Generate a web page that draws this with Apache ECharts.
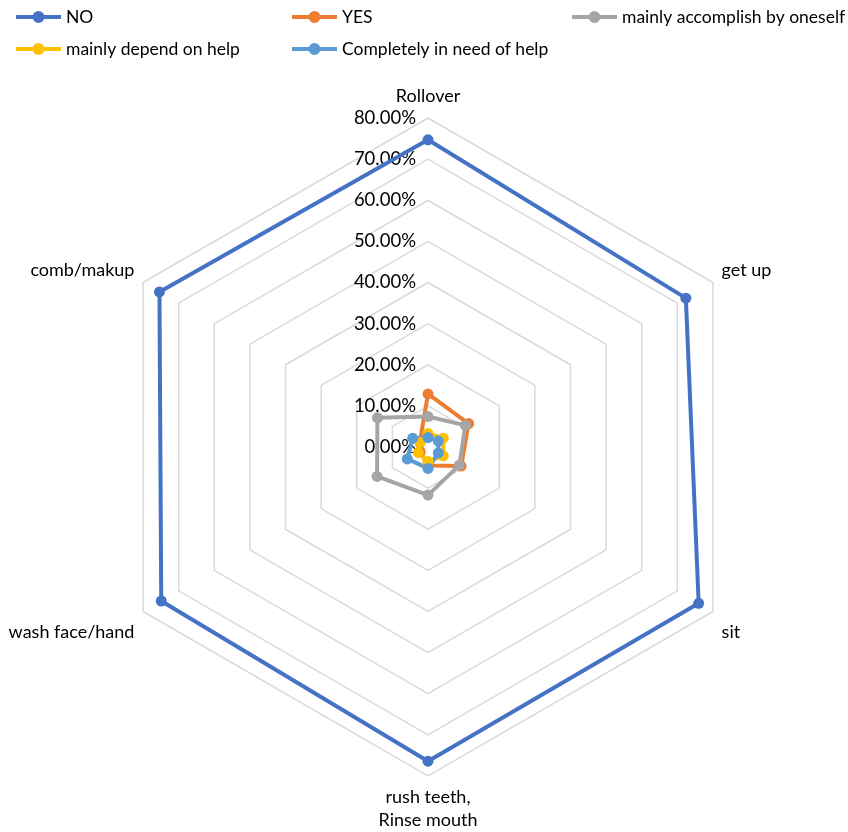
<!DOCTYPE html>
<html>
<head>
<meta charset="utf-8">
<script src="https://cdn.jsdelivr.net/npm/echarts@6/dist/echarts.min.js"></script>
<style>
  html, body { margin: 0; padding: 0; background: #fff; }
  #contain { width: 848px; height: 832px; }
</style>
</head>
<body>
<div id="contain"></div>
<script>
// categories in the order Excel draws them (clockwise from the top)
const categories = ['Rollover', 'get up', 'sit', 'rush teeth,\nRinse mouth', 'wash face/hand', 'comb/makup'];
const seriesNames = ['NO', 'YES', 'mainly accomplish by oneself', 'mainly depend on help', 'Completely in need of help'];
const colors = ['#4472C4', '#ED7D31', '#A5A5A5', '#FFC000', '#5B9BD5'];

const noVals = [74.7, 72.4, 76.0, 76.4, 74.9, 75.4];
const yesVals = [12.9, 11.4, 9.3, 4.5, 2.2, 2.3];
const selfVals = [7.4, 10.5, 8.8, 11.7, 14.3, 14.2];
const dependVals = [3.3, 4.3, 4.3, 3.5, 2.7, 2.2];
const needVals = [2.3, 2.9, 2.9, 5.2, 5.8, 4.3];

const axisMax = 80;
const axisStep = 10;

const font = 'Lato';

// excel puts the side labels a bit higher (upper ones) / lower (lower ones) than echarts
const nameShift = {
  'get up': 'up',
  'comb/makup': 'up',
  'sit': 'down',
  'wash face/hand': 'down'
};

// echarts puts indicators counter-clockwise, so flip the order after the first one
const order = [0, 5, 4, 3, 2, 1];
const reorder = (arr) => order.map(i => arr[i]);

// line with a dot, like the excel legend keys
const legendIcon = 'path://M0,4L45,4L45,8L0,8Z M22.5,0A6,6 0 1,1 22.5,12A6,6 0 1,1 22.5,0Z';

const init = () => {
  const chartDom = document.getElementById('contain');
  const myChart = echarts.init(chartDom);

  const allVals = [noVals, yesVals, selfVals, dependVals, needVals];

  const indicator = reorder(categories).map((name, i) => {
    const ind = { name: name, min: 0, max: axisMax };
    if (i === 0) {
      ind.axisLabel = {
        show: true,
        color: '#000',
        fontFamily: font,
        fontSize: 18.5,
        margin: 12,
        formatter: (v) => v.toFixed(2) + '%'
      };
    }
    return ind;
  });

  // legend laid out like excel: 3 columns, 2 rows
  const legendPos = [
    { left: 16, top: 8 },
    { left: 292, top: 8 },
    { left: 572, top: 8 },
    { left: 16, top: 40 },
    { left: 292, top: 40 }
  ];
  const legend = seriesNames.map((n, i) => ({
    data: [{ name: n, icon: legendIcon, itemStyle: { color: colors[i] } }],
    left: legendPos[i].left,
    top: legendPos[i].top,
    padding: 0,
    itemWidth: 45,
    itemHeight: 12,
    textStyle: { color: '#000', fontFamily: font, fontSize: 17.5 }
  }));

  const series = [{
    type: 'radar',
    data: seriesNames.map((n, i) => ({
      name: n,
      value: reorder(allVals[i]),
      symbol: 'circle',
      symbolSize: 11,
      lineStyle: { color: colors[i], width: 4 },
      itemStyle: { color: colors[i] }
    }))
  }];

  const nameStyle = { color: '#000', fontFamily: font, fontSize: 18, lineHeight: 23 };

  const option = {
    animation: false,
    color: colors,
    legend: legend,
    radar: {
      center: [428, 447],
      radius: 329,
      startAngle: 90,
      splitNumber: axisMax / axisStep,
      shape: 'polygon',
      nameGap: 10,
      axisName: Object.assign({}, nameStyle, {
        formatter: (name) => nameShift[name] ? '{' + nameShift[name] + '|' + name + '}' : name,
        rich: {
          up: Object.assign({}, nameStyle, { padding: [0, 0, 14, 0] }),
          down: Object.assign({}, nameStyle, { padding: [32, 0, 0, 0] })
        }
      }),
      axisLine: { show: false },
      axisTick: { show: false },
      axisLabel: { show: false },
      splitArea: { show: false },
      splitLine: { lineStyle: { color: '#d9d9d9', width: 1.5 } },
      indicator: indicator
    },
    series: series
  };

  option && myChart.setOption(option);
};

init();
</script>
</body>
</html>
